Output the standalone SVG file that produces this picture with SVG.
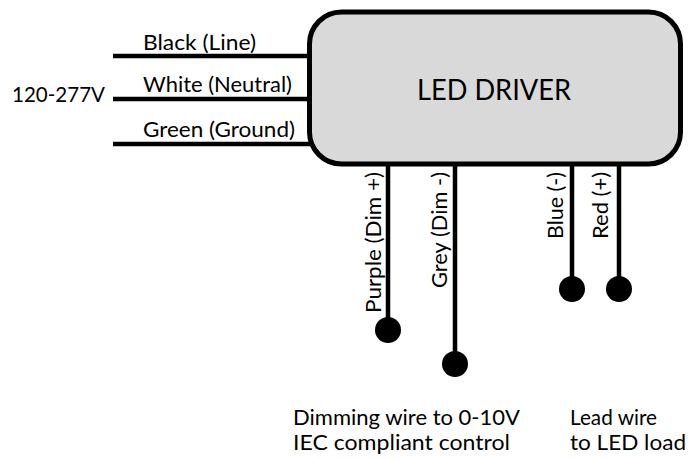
<svg xmlns="http://www.w3.org/2000/svg" width="688" height="459" viewBox="0 0 688 459">
<style>
.t{font-family:Lato,"Open Sans",sans-serif;fill:#000}
.l{font-size:22px}
.n{font-size:21px}
.w{stroke:#000;stroke-width:4.5;fill:none}
.d{fill:#000}
</style>
<rect width="688" height="459" fill="#fff"/>
<g id="connectors">
<line class="w" x1="113" y1="56" x2="312" y2="56"/>
<line class="w" x1="113" y1="99" x2="312" y2="99"/>
<line class="w" x1="113" y1="144" x2="312" y2="144"/>
<line class="w" x1="388" y1="162" x2="388" y2="330"/>
<line class="w" x1="455" y1="162" x2="455" y2="364"/>
<line class="w" x1="572" y1="162" x2="572" y2="289"/>
<line class="w" x1="619" y1="162" x2="619" y2="289"/>
<circle class="d" cx="388" cy="330" r="13"/>
<circle class="d" cx="455" cy="364" r="13"/>
<circle class="d" cx="572" cy="289" r="13"/>
<circle class="d" cx="619" cy="289" r="13"/>
</g>
<g id="driver">
<rect x="309.5" y="12" width="371" height="152" rx="32" fill="#d9d9d9" stroke="#000" stroke-width="5"/>
<text class="t" x="417" y="100" font-size="29" textLength="154" lengthAdjust="spacingAndGlyphs">LED DRIVER</text>
</g>
<g id="labels">
<text class="t l" x="12" y="102" textLength="93" lengthAdjust="spacingAndGlyphs">120-277V</text>
<text class="t l" x="143" y="50" textLength="113" lengthAdjust="spacingAndGlyphs">Black (Line)</text>
<text class="t l" x="143" y="92" textLength="149" lengthAdjust="spacingAndGlyphs">White (Neutral)</text>
<text class="t l" x="143" y="137" textLength="152" lengthAdjust="spacingAndGlyphs">Green (Ground)</text>
<text class="t l" transform="translate(381,313) rotate(-90)" textLength="141" lengthAdjust="spacingAndGlyphs">Purple (Dim +)</text>
<text class="t l" transform="translate(447,288) rotate(-90)" textLength="116" lengthAdjust="spacingAndGlyphs">Grey (Dim -)</text>
<text class="t l" transform="translate(563,239) rotate(-90)" textLength="67" lengthAdjust="spacingAndGlyphs">Blue (-)</text>
<text class="t l" transform="translate(608,239) rotate(-90)" textLength="67" lengthAdjust="spacingAndGlyphs">Red (+)</text>
</g>
<g id="notes">
<text class="t n" x="293" y="424.5" textLength="227" lengthAdjust="spacingAndGlyphs">Dimming wire to 0-10V</text>
<text class="t n" x="293" y="450" textLength="217" lengthAdjust="spacingAndGlyphs">IEC compliant control</text>
<text class="t n" x="570" y="424.5" textLength="87" lengthAdjust="spacingAndGlyphs">Lead wire</text>
<text class="t n" x="570" y="450" textLength="116" lengthAdjust="spacingAndGlyphs">to LED load</text>
</g>
</svg>
